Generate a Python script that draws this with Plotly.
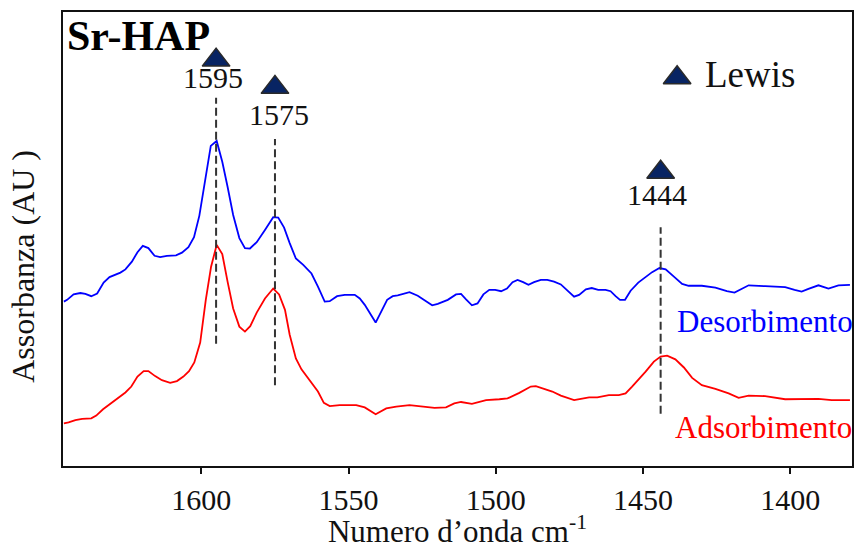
import plotly.graph_objects as go

# FTIR spectra of pyridine on Sr-HAP (wavenumber in cm-1, absorbance in arbitrary units)
wn_des = [1646.7, 1645.6, 1643.4, 1641.1, 1639.4, 1637.4, 1635.4, 1633.2, 1631.2, 1629.2,
          1627.5, 1625.8, 1623.6, 1621.7, 1619.9, 1618.0, 1615.9, 1614.0, 1611.7, 1608.6,
          1606.6, 1604.4, 1602.5, 1600.7, 1598.7, 1596.8, 1594.8, 1592.9, 1591.1, 1589.2,
          1587.1, 1585.2, 1583.5, 1581.2, 1578.4, 1575.6, 1573.9, 1571.9, 1570.0, 1567.9,
          1565.4, 1562.6, 1560.4, 1558.1, 1556.4, 1553.9, 1551.3, 1547.9, 1546.2, 1544.5,
          1540.8, 1538.9, 1536.9, 1535.0, 1533.3, 1529.3, 1526.5, 1524.2, 1521.6, 1519.7,
          1516.3, 1513.5, 1511.8, 1510.1, 1508.1, 1506.2, 1504.2, 1502.2, 1500.2, 1498.2,
          1496.2, 1494.3, 1492.6, 1490.7, 1488.9, 1487.0, 1484.7, 1482.5, 1480.2, 1477.9,
          1475.7, 1473.4, 1471.7, 1469.4, 1467.4, 1465.2, 1462.7, 1461.0, 1459.3, 1457.8,
          1456.1, 1454.2, 1451.6, 1449.1, 1446.9, 1444.4, 1442.3, 1439.5, 1436.7, 1434.5,
          1430.0, 1425.4, 1421.5, 1418.9, 1416.4, 1414.1, 1408.5, 1401.7, 1398.5, 1396.1,
          1393.8, 1390.4, 1387.0, 1383.6, 1379.7]
abs_des = [0.362, 0.366, 0.378, 0.381, 0.379, 0.374, 0.380, 0.404, 0.416, 0.421,
           0.426, 0.433, 0.450, 0.471, 0.485, 0.480, 0.463, 0.460, 0.463, 0.464,
           0.470, 0.482, 0.504, 0.551, 0.630, 0.705, 0.716, 0.670, 0.615, 0.553,
           0.502, 0.480, 0.479, 0.493, 0.520, 0.548, 0.547, 0.525, 0.491, 0.457,
           0.443, 0.424, 0.395, 0.362, 0.363, 0.374, 0.377, 0.377, 0.369, 0.355,
           0.316, 0.340, 0.366, 0.374, 0.376, 0.383, 0.375, 0.365, 0.354, 0.357,
           0.366, 0.378, 0.379, 0.367, 0.354, 0.358, 0.378, 0.388, 0.388, 0.385,
           0.391, 0.405, 0.410, 0.405, 0.399, 0.405, 0.410, 0.410, 0.406, 0.400,
           0.386, 0.373, 0.377, 0.389, 0.392, 0.388, 0.388, 0.385, 0.374, 0.366,
           0.366, 0.386, 0.404, 0.416, 0.427, 0.436, 0.433, 0.417, 0.401, 0.397,
           0.397, 0.393, 0.385, 0.382, 0.391, 0.398, 0.396, 0.394, 0.388, 0.384,
           0.390, 0.398, 0.391, 0.398, 0.399]

wn_ads = [1646.7, 1645.1, 1642.8, 1640.5, 1637.4, 1635.7, 1633.4, 1630.9, 1628.1, 1625.8,
          1623.8, 1621.7, 1619.6, 1618.0, 1615.7, 1613.4, 1610.6, 1608.3, 1606.1, 1604.2,
          1602.4, 1600.4, 1598.5, 1596.7, 1594.8, 1592.9, 1591.1, 1589.2, 1587.1, 1585.2,
          1583.4, 1581.2, 1578.4, 1575.6, 1573.6, 1571.6, 1570.0, 1567.9, 1566.0, 1563.2,
          1560.4, 1558.4, 1556.4, 1553.0, 1547.4, 1544.5, 1540.8, 1537.2, 1533.8, 1529.3,
          1524.8, 1520.8, 1516.9, 1514.1, 1511.8, 1508.1, 1506.2, 1503.3, 1498.8, 1496.0,
          1492.0, 1488.1, 1486.4, 1484.2, 1480.8, 1477.9, 1475.1, 1473.4, 1471.1, 1468.3,
          1465.5, 1461.6, 1458.2, 1455.9, 1453.7, 1451.4, 1449.1, 1446.3, 1444.0, 1441.8,
          1439.0, 1436.1, 1433.3, 1430.0, 1425.4, 1420.9, 1417.5, 1414.1, 1408.5, 1401.7,
          1396.1, 1390.4, 1385.9, 1379.7]
abs_ads = [0.094, 0.096, 0.101, 0.104, 0.105, 0.111, 0.125, 0.137, 0.150, 0.162,
           0.175, 0.197, 0.209, 0.209, 0.198, 0.189, 0.183, 0.187, 0.197, 0.209,
           0.228, 0.272, 0.366, 0.439, 0.487, 0.467, 0.406, 0.347, 0.307, 0.296,
           0.308, 0.338, 0.369, 0.391, 0.378, 0.344, 0.289, 0.237, 0.213, 0.188,
           0.164, 0.139, 0.132, 0.134, 0.134, 0.129, 0.114, 0.127, 0.131, 0.134,
           0.130, 0.128, 0.129, 0.138, 0.141, 0.137, 0.140, 0.145, 0.147, 0.149,
           0.161, 0.175, 0.176, 0.171, 0.164, 0.155, 0.148, 0.145, 0.148, 0.151,
           0.151, 0.156, 0.156, 0.160, 0.175, 0.191, 0.208, 0.230, 0.241, 0.243,
           0.235, 0.217, 0.194, 0.178, 0.170, 0.160, 0.150, 0.155, 0.154, 0.147,
           0.147, 0.148, 0.145, 0.145]

# Lewis acid site bands
lewis_peaks = [1595, 1575, 1444]
lewis_marker_y = [0.894, 0.834, 0.647]
lewis_label_y = [0.855, 0.774, 0.599]
guide_top = [0.811, 0.720, 0.526]
guide_bottom = [0.269, 0.178, 0.115]

x_ticks = [1600, 1550, 1500, 1450, 1400]
x_tick_text = ["1600", "1550", "1500", "1450", "1400"]
x_range = [1647, 1379]

SERIF = "Liberation Serif, Times New Roman, serif"
NAVY = "#082463"
INK = "#111111"

fig = go.Figure()

fig.add_trace(go.Scatter(x=wn_des, y=abs_des, mode="lines",
                         line=dict(color="#0000ff", width=1.8), showlegend=False))
fig.add_trace(go.Scatter(x=wn_ads, y=abs_ads, mode="lines",
                         line=dict(color="#ff0000", width=1.8), showlegend=False))

# dashed guides at the Lewis bands
for xp, y0, y1 in zip(lewis_peaks, guide_bottom, guide_top):
    fig.add_shape(type="line", xref="x", yref="y", x0=xp, x1=xp, y0=y0, y1=y1,
                  line=dict(color="#333333", width=2, dash="8px,4px"))

# triangle markers above each band, plus the legend triangle
fig.add_trace(go.Scatter(x=lewis_peaks + [1438.4], y=lewis_marker_y + [0.855],
                         mode="markers", showlegend=False,
                         marker=dict(symbol="triangle-up", size=24, color=NAVY,
                                     line=dict(color="#2a2a2a", width=1.5))))

label_shift = [-3, 4, -4]
for xp, yl, dx in zip(lewis_peaks, lewis_label_y, label_shift):
    fig.add_annotation(x=xp, y=yl, xref="x", yref="y", text=str(xp), showarrow=False,
                       xanchor="center", yanchor="middle", xshift=dx,
                       font=dict(family=SERIF, size=30, color=INK))

fig.add_annotation(x=1438.4, y=0.862, xref="x", yref="y", text="Lewis", showarrow=False,
                   xanchor="left", yanchor="middle", xshift=26,
                   font=dict(family=SERIF, size=37, color=INK))

fig.add_annotation(x=1.004, y=0.318, xref="paper", yref="y", text="Desorbimento",
                   showarrow=False, xanchor="right", yanchor="middle",
                   font=dict(family=SERIF, size=31, color="#0000ff"))
fig.add_annotation(x=1.002, y=0.084, xref="paper", yref="y", text="Adsorbimento",
                   showarrow=False, xanchor="right", yanchor="middle",
                   font=dict(family=SERIF, size=31, color="#ff0000"))

fig.add_annotation(x=0.003, y=1.0, xref="paper", yref="paper", text="<b>Sr-HAP</b>",
                   showarrow=False, xanchor="left", yanchor="top", yshift=1,
                   font=dict(family=SERIF, size=42, color="#000000"))

# y-axis title
fig.add_annotation(x=-0.05, y=0.44, xref="paper", yref="paper", text="Assorbanza (AU )",
                   showarrow=False, textangle=-90, xanchor="center", yanchor="middle",
                   font=dict(family=SERIF, size=32, color=INK))

fig.update_layout(
    width=861, height=549, plot_bgcolor="white", paper_bgcolor="white",
    margin=dict(l=63, r=7, t=12, b=83),
    xaxis=dict(range=x_range, tickmode="array", tickvals=x_ticks, ticktext=x_tick_text,
               ticks="outside", ticklen=6, tickwidth=2, tickcolor=INK,
               tickfont=dict(family=SERIF, size=30, color=INK),
               showgrid=False, zeroline=False,
               showline=True, linecolor=INK, linewidth=2, mirror=True,
               title=dict(text="Numero d\u2019onda cm<sup>-1</sup>", standoff=0,
                          font=dict(family=SERIF, size=31, color=INK))),
    yaxis=dict(range=[0, 1], showticklabels=False, ticks="", showgrid=False,
               zeroline=False, showline=True, linecolor=INK, linewidth=2, mirror=True),
)

fig.write_html("out.html")
